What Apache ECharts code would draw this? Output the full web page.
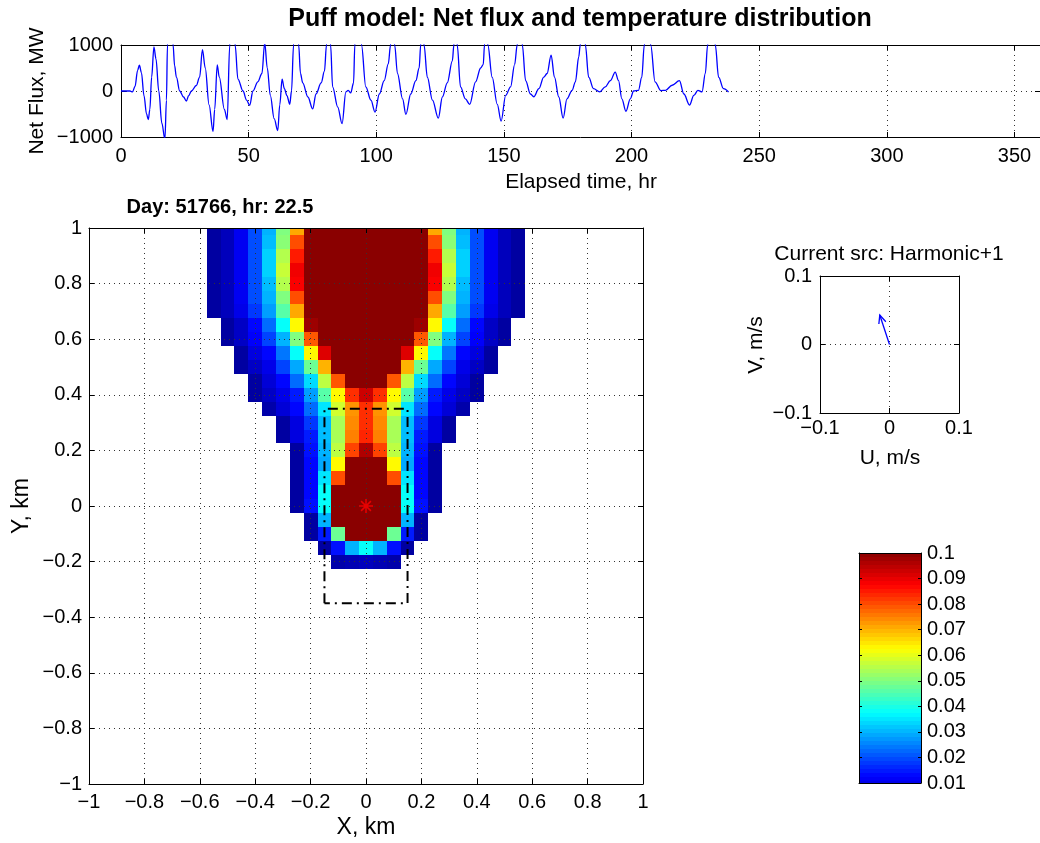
<!DOCTYPE html>
<html>
<head>
<meta charset="utf-8">
<script src="https://cdn.jsdelivr.net/npm/echarts@6.0.0/dist/echarts.min.js"></script>
<style>
html, body { margin: 0; padding: 0; background: #fff; }
#main { width: 1040px; height: 843px; }
</style>
</head>
<body>
<div id="main"></div>
<script>
var FONT = '"Liberation Sans", Arial, Helvetica, sans-serif';

// net flux time series (hours, MW)
var fluxHours = [0, 2, 3.5, 4.5, 5.5, 6.5, 7.2, 8, 9, 10, 10.7, 11.3, 12, 12.9, 13.7, 14.8, 16, 17.2, 17.8, 18.2, 19.2, 20.4,
    21, 21.7, 23, 24.5, 25.6, 26.5, 27.6, 29.5, 30.8, 31.9, 33, 34.5, 36.05, 36.7, 37.7, 38.5, 40.5, 41.6, 42.6, 43.6, 44.7,
    45.8, 47.8, 49.2, 50.4, 51.7, 53.6, 55.2, 56.3, 57.3, 58.5, 60, 61.4, 62.2, 63.1, 64, 65, 66.1, 66.8, 67.6, 68.6, 69.6,
    70.3, 71.2, 73.2, 75.1, 76.4, 78.4, 79.7, 80.5, 81.3, 82.1, 82.9, 84.9, 86.6, 88.1, 89, 90, 91.1, 91.6, 92.9, 94.2,
    95.9, 97.9, 99.5, 101.2, 103.1, 104.7, 105.6, 106.4, 107.2, 108.3, 110.3, 111.6, 113.5, 115.5, 116.8, 117.4, 118, 118.7,
    120, 122, 124.3, 125.9, 127.8, 129.8, 130.4, 131, 131.7, 133, 134.9, 136.6, 138.9, 140.9, 141.9, 142.4, 143, 143.7,
    145.4, 147.4, 148.9, 150.7, 152.6, 154.2, 155.2, 156.2, 157.2, 158.5, 160.4, 161.7, 163.7, 165.6, 166.9, 168.5, 169.8,
    171.5, 173.2, 174.7, 176.7, 178, 179.3, 179.9, 180.9, 181.9, 183.2, 185.1, 187.5, 189.7, 191.7, 193.6, 194.9, 196.2,
    197.8, 199.5, 200.8, 202.7, 204, 205, 206.3, 207.5, 209.2, 211.5, 213.3, 215.9, 218.75, 220.5, 222.7, 224.4, 226,
    227.6, 228.9, 229.8, 231.3, 232.8, 234.1, 236, 238];
var fluxMW = [0, 0, 0, -20, 100, 450, 560, 400, -100, -500, -620, -400, 300, 960, 700, 0, -700, -1050, -200, 1000, 2300, 1000,
    550, 300, 0, -130, -220, -100, 0, 120, 300, 900, 500, -300, -880, -400, 570, 300, -400, -620, 1000, 2000, 1000,
    260, 0, -200, -310, 0, 200, 380, 1050, 500, -100, -600, -860, -300, 255, 50, -100, -290, 0, 1000, 2000, 1000,
    380, 175, -130, -390, -65, 175, 430, 1000, 1800, 1000, 90, -350, -710, -20, 15, -40, 175, 1000, 2200, 1000,
    90, -200, -460, -65, 225, 590, 1000, 1600, 1000, 380, -170, -510, -65, 225, 500, 1000, 1500, 1000,
    300, -200, -590, -130, 175, 655, 1000, 1500, 1000, 90, -170, -290, 200, 500, 575, 1000, 1500, 1000,
    300, -290, -655, -95, 90, 575, 1000, 1800, 1000, 225, -65, -125, 50, 300, 380, 780, 300,
    -130, -590, -170, 15, 200, 740, 1000, 1800, 1000, 300, 50, -20, 90, 225, 410, 225, -170,
    -440, -170, 0, 15, 300, 1000, 1800, 1000, 200, 10, 15, 125, 225, -65, -305, -95, 15,
    -20, 380, 1000, 2000, 1000, 300, 50, -20];

// temperature cells: centres in km, values in units of 0.001
var cellX = [-0.55, -0.5, -0.45, -0.4, -0.35, -0.3, -0.25, -0.2, -0.15, -0.1, -0.05, 0,
    0.05, 0.1, 0.15, 0.2, 0.25, 0.3, 0.35, 0.4, 0.45, 0.5, 0.55];
var cellY = [1, 0.95, 0.9, 0.85, 0.8, 0.75, 0.7, 0.65, 0.6, 0.55, 0.5, 0.45, 0.4, 0.35, 0.3,
    0.25, 0.2, 0.15, 0.1, 0.05, 0, -0.05, -0.1, -0.15, -0.2];
var cellSize = 0.05;
var _ = null;
var temp = [
    [2, 5, 11, 20, 30, 50, 71, 100, 100, 100, 100, 100, 100, 100, 100, 100, 71, 50, 30, 20, 11, 5, 2],
    [2, 5, 11, 20, 31, 51, 80, 100, 100, 100, 100, 100, 100, 100, 100, 100, 80, 51, 31, 20, 11, 5, 2],
    [2, 5, 11, 20, 33, 55, 85, 100, 100, 100, 100, 100, 100, 100, 100, 100, 85, 55, 33, 20, 11, 5, 2],
    [2, 5, 11, 20, 33, 57, 89, 100, 100, 100, 100, 100, 100, 100, 100, 100, 89, 57, 33, 20, 11, 5, 2],
    [2, 5, 11, 20, 31, 55, 88, 100, 100, 100, 100, 100, 100, 100, 100, 100, 88, 55, 31, 20, 11, 5, 2],
    [2, 5, 11, 20, 30, 50, 80, 100, 100, 100, 100, 100, 100, 100, 100, 100, 80, 50, 30, 20, 11, 5, 2],
    [2, 5, 10, 18, 28, 46, 71, 100, 100, 100, 100, 100, 100, 100, 100, 100, 71, 46, 28, 18, 10, 5, 2],
    [_, 2, 6, 13, 23, 38, 63, 98, 100, 100, 100, 100, 100, 100, 100, 98, 63, 38, 23, 13, 6, 2, _],
    [_, 2, 6, 12, 19, 30, 50, 79, 100, 100, 100, 100, 100, 100, 100, 79, 50, 30, 19, 12, 6, 2, _],
    [_, _, 2, 9, 13, 24, 38, 63, 91, 100, 100, 100, 100, 100, 91, 63, 38, 24, 13, 9, 2, _, _],
    [_, _, 2, 6, 10, 19, 29, 48, 70, 100, 100, 100, 100, 100, 70, 48, 29, 19, 10, 6, 2, _, _],
    [_, _, _, 2, 8, 13, 23, 34, 56, 79, 100, 100, 100, 79, 56, 34, 23, 13, 8, 2, _, _, _],
    [_, _, _, 2, 6, 10, 15, 28, 46, 63, 83, 93, 83, 63, 46, 28, 15, 10, 6, 2, _, _, _],
    [_, _, _, _, 3, 8, 13, 23, 35, 58, 73, 83, 73, 58, 35, 23, 13, 8, 3, _, _, _, _],
    [_, _, _, _, _, 2, 9, 18, 31, 54, 74, 83, 74, 54, 31, 18, 9, 2, _, _, _, _, _],
    [_, _, _, _, _, 2, 9, 15, 31, 54, 75, 84, 75, 54, 31, 15, 9, 2, _, _, _, _, _],
    [_, _, _, _, _, _, 2, 14, 30, 56, 81, 96, 81, 56, 30, 14, 2, _, _, _, _, _, _],
    [_, _, _, _, _, _, 2, 13, 29, 63, 100, 100, 100, 63, 29, 13, 2, _, _, _, _, _, _],
    [_, _, _, _, _, _, 2, 13, 35, 80, 100, 100, 100, 80, 35, 13, 2, _, _, _, _, _, _],
    [_, _, _, _, _, _, 2, 13, 38, 100, 100, 100, 100, 100, 38, 13, 2, _, _, _, _, _, _],
    [_, _, _, _, _, _, 2, 14, 38, 100, 100, 100, 100, 100, 38, 14, 2, _, _, _, _, _, _],
    [_, _, _, _, _, _, _, 2, 30, 100, 100, 100, 100, 100, 30, 2, _, _, _, _, _, _, _],
    [_, _, _, _, _, _, _, 2, 15, 48, 100, 100, 100, 48, 15, 2, _, _, _, _, _, _, _],
    [_, _, _, _, _, _, _, _, 2, 14, 30, 38, 30, 14, 2, _, _, _, _, _, _, _, _],
    [_, _, _, _, _, _, _, _, _, 3, 4, 5, 4, 3, _, _, _, _, _, _, _, _, _]
];

// source box and source position (km)
var boxX = [-0.15, -0.15, 0.15, 0.15, -0.15];
var boxY = [-0.35, 0.35, 0.35, -0.35, -0.35];
var srcX = [0];
var srcY = [0];

// current vector (m/s)
var curU = [-0.014];
var curV = [0.043];

// colour scale
var cMin = 0, cMax = 0.1, nColors = 64;
var jet = ['#00008f', '#0000ff', '#0080ff', '#00ffff', '#80ff80', '#ffff00', '#ff8000', '#ff0000', '#8a0000'];

var cells = [];
temp.forEach(function (row, i) {
    row.forEach(function (v, j) {
        if (v !== null) cells.push([cellX[j], cellY[i], v / 1000]);
    });
});

var bands = [];
for (var b = 0; b < nColors; b++) {
    var lo = cMin + (cMax - cMin) * b / nColors;
    var hi = cMin + (cMax - cMin) * (b + 1) / nColors;
    bands.push([lo, hi, (lo + hi) / 2]);
}

function minus(v) {
    return String(v).replace('-', '\u2212');
}

var tickFont = { show: true, fontFamily: FONT, fontSize: 20, color: '#000', formatter: minus };
var dotted = { show: true, lineStyle: { color: '#333', width: 1, type: [1, 4] } };

function axis(grid, min, max, step, extra) {
    var a = {
        type: 'value', gridIndex: grid, min: min, max: max, interval: step,
        axisLine: { show: true, onZero: false, lineStyle: { color: '#000', width: 1 } },
        axisTick: { show: true, inside: true, length: 5, lineStyle: { color: '#000' } },
        axisLabel: { show: false },
        splitLine: { show: false }
    };
    for (var k in extra) a[k] = extra[k];
    return a;
}

// pixel-snapped rect clipped to the grid, so neighbouring cells meet without seams
function cellRect(params, x0, y0, x1, y1) {
    x0 = Math.round(x0); y0 = Math.round(y0); x1 = Math.round(x1); y1 = Math.round(y1);
    return echarts.graphic.clipRectByRect(
        { x: x0, y: y0, width: x1 - x0, height: y1 - y0 },
        { x: params.coordSys.x, y: params.coordSys.y, width: params.coordSys.width, height: params.coordSys.height });
}

function renderCell(params, api) {
    var x = api.value(0), y = api.value(1);
    var p0 = api.coord([x - cellSize / 2, y + cellSize / 2]);
    var p1 = api.coord([x + cellSize / 2, y - cellSize / 2]);
    var rect = cellRect(params, p0[0], p0[1], p1[0], p1[1]);
    return rect && { type: 'rect', shape: rect, style: { fill: api.visual('color') } };
}

function renderBand(params, api) {
    var p0 = api.coord([0, api.value(1)]);
    var p1 = api.coord([1, api.value(0)]);
    var rect = cellRect(params, p0[0], p0[1], p1[0], p1[1]);
    return rect && { type: 'rect', shape: rect, style: { fill: api.visual('color') } };
}

function renderArrow(params, api) {
    var p0 = api.coord([api.value(0), api.value(1)]);
    var p1 = api.coord([api.value(0) + api.value(2), api.value(1) + api.value(3)]);
    var ang = Math.atan2(p1[1] - p0[1], p1[0] - p0[0]);
    var len = 9, spread = 0.42;
    var h1 = [p1[0] - len * Math.cos(ang - spread), p1[1] - len * Math.sin(ang - spread)];
    var h2 = [p1[0] - len * Math.cos(ang + spread), p1[1] - len * Math.sin(ang + spread)];
    var st = { stroke: '#0000ff', lineWidth: 1.3, fill: null };
    return {
        type: 'group',
        children: [
            { type: 'polyline', shape: { points: [p0, p1] }, style: st },
            { type: 'polyline', shape: { points: [h1, p1, h2] }, style: st }
        ]
    };
}

function label(text, x, y, opts) {
    opts = opts || {};
    return {
        type: 'text', x: x, y: y, rotation: opts.rotate ? Math.PI / 2 : 0, z: 20,
        style: {
            text: text, fill: '#000', fontFamily: FONT, fontSize: opts.size || 21,
            fontWeight: opts.bold ? 'bold' : 'normal',
            align: 'center', verticalAlign: 'middle', textAlign: 'center', textVerticalAlign: 'middle'
        }
    };
}

var myChart = echarts.init(document.getElementById('main'));
var option = {
    backgroundColor: '#fff',
    animation: false,
    grid: [
        { left: 121, top: 45, width: 921, height: 92 },
        { left: 89, top: 228, width: 554, height: 556 },
        { left: 820, top: 276, width: 139, height: 137 },
        { left: 859, top: 553, width: 62, height: 230 }
    ],
    xAxis: [
        axis(0, 0, 360, 50, { axisLabel: Object.assign({}, tickFont, { margin: 9, showMaxLabel: false }), splitLine: dotted }),
        axis(0, 0, 360, 50, { position: 'top' }),
        axis(1, -1, 1, 0.2, { axisLabel: Object.assign({}, tickFont, { margin: 8 }), splitLine: dotted, z: 10 }),
        axis(1, -1, 1, 0.2, { position: 'top', z: 10 }),
        axis(2, -0.1, 0.1, 0.1, { axisLabel: Object.assign({}, tickFont, { margin: 5 }), splitLine: dotted }),
        axis(2, -0.1, 0.1, 0.1, { position: 'top' }),
        axis(3, 0, 1, 1, { axisTick: { show: false }, z: 10 }),
        axis(3, 0, 1, 1, { position: 'top', axisTick: { show: false }, z: 10 })
    ],
    yAxis: [
        axis(0, -1000, 1000, 1000, { axisLabel: Object.assign({}, tickFont, { margin: 8 }), splitLine: dotted }),
        axis(0, -1000, 1000, 1000, { position: 'right' }),
        axis(1, -1, 1, 0.2, { axisLabel: Object.assign({}, tickFont, { margin: 7 }), splitLine: dotted, z: 10 }),
        axis(1, -1, 1, 0.2, { position: 'right', z: 10 }),
        axis(2, -0.1, 0.1, 0.1, { axisLabel: Object.assign({}, tickFont, { margin: 8 }), splitLine: dotted }),
        axis(2, -0.1, 0.1, 0.1, { position: 'right' }),
        axis(3, 0.01, 0.1, 0.01, { axisTick: { show: true, inside: true, length: 3, lineStyle: { color: '#000' } }, z: 10 }),
        axis(3, 0.01, 0.1, 0.01, { position: 'right', z: 10,
            axisTick: { show: true, inside: true, length: 3, lineStyle: { color: '#000' } },
            axisLabel: Object.assign({}, tickFont, { margin: 6 }) })
    ],
    visualMap: {
        show: false, type: 'continuous', seriesIndex: [1, 5], dimension: 2,
        min: cMin, max: cMax, inRange: { color: jet }
    },
    series: [
        {
            name: 'Net flux', type: 'line', xAxisIndex: 0, yAxisIndex: 0,
            data: fluxHours.map(function (h, i) { return [h, fluxMW[i]]; }),
            showSymbol: false, smooth: 0.35, smoothMonotone: 'x', clip: true,
            lineStyle: { color: '#0000ff', width: 1.3 }
        },
        {
            name: 'Temperature', type: 'custom', xAxisIndex: 2, yAxisIndex: 2,
            renderItem: renderCell, data: cells, z: 2
        },
        {
            name: 'Source box', type: 'line', xAxisIndex: 2, yAxisIndex: 2,
            data: boxX.map(function (x, i) { return [x, boxY[i]]; }),
            showSymbol: false, z: 12,
            lineStyle: { color: '#000', width: 2, type: [10, 5, 2, 5] }
        },
        {
            name: 'Source', type: 'scatter', xAxisIndex: 2, yAxisIndex: 2,
            data: srcX.map(function (x, i) { return [x, srcY[i]]; }),
            symbol: 'path://M6,0L6,12M0,6L12,6M1.8,1.8L10.2,10.2M10.2,1.8L1.8,10.2',
            symbolSize: 14, z: 13,
            itemStyle: { color: 'rgba(0,0,0,0)', borderColor: '#ff0000', borderWidth: 1.5 }
        },
        {
            name: 'Current', type: 'custom', xAxisIndex: 4, yAxisIndex: 4,
            renderItem: renderArrow,
            data: curU.map(function (u, i) { return [0, 0, u, curV[i]]; })
        },
        {
            name: 'Colorbar', type: 'custom', xAxisIndex: 6, yAxisIndex: 6,
            renderItem: renderBand, data: bands
        }
    ],
    graphic: [
        label('Puff model: Net flux and temperature distribution', 580, 19, { bold: true, size: 25 }),
        label('Net Flux, MW', 37, 91, { rotate: true }),
        label('Elapsed time, hr', 581, 182),
        label('Day: 51766, hr: 22.5', 220, 207, { bold: true, size: 20 }),
        label('Y, km', 22, 506, { rotate: true, size: 23 }),
        label('X, km', 366, 828, { size: 23 }),
        label('Current src: Harmonic+1', 889, 254),
        label('V, m/s', 756, 345, { rotate: true }),
        label('U, m/s', 890, 458)
    ]
};
myChart.setOption(option);
</script>
</body>
</html>
